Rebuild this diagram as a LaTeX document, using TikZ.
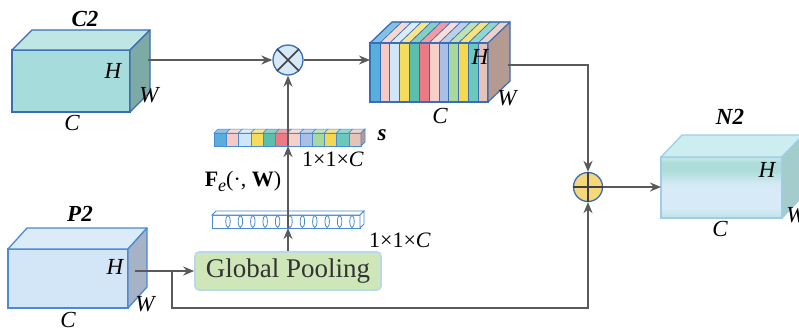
\documentclass[tikz,border=0pt]{standalone}
\usepackage{fontspec}
\setmainfont{Liberation Serif}
\usetikzlibrary{arrows.meta,calc}
\definecolor{bord}{HTML}{3A6DB5}
\definecolor{lbord}{HTML}{9FCDE6}
\definecolor{arrc}{HTML}{5A5A5A}
\definecolor{ctf}{HTML}{A6DCDC}
\definecolor{ctt}{HTML}{BFE6E4}
\definecolor{cts}{HTML}{7EAAA6}
\definecolor{pf}{HTML}{D3E6F7}
\definecolor{pt}{HTML}{DCEBF8}
\definecolor{ps}{HTML}{A6B2C6}
\definecolor{nt}{HTML}{CDEEF0}
\definecolor{ns}{HTML}{A5CCCC}
\definecolor{nA}{HTML}{BCE2E4}
\definecolor{nB}{HTML}{D6EBF7}
\definecolor{nC}{HTML}{ADDCDB}
\definecolor{nD}{HTML}{C6E9EC}
\definecolor{fs}{HTML}{B59A92}
\definecolor{gpf}{HTML}{CFE6B9}
\definecolor{gpb}{HTML}{B8D8EE}
\definecolor{mulf}{HTML}{D5E9F7}
\definecolor{addf}{HTML}{F5D77C}
\definecolor{vb}{HTML}{4A8AD0}
\definecolor{sA}{HTML}{5AAEDC}
\definecolor{sB}{HTML}{F6C9C4}
\definecolor{sC}{HTML}{CFE6F6}
\definecolor{sD}{HTML}{F6DC5C}
\definecolor{sE}{HTML}{5BBFAE}
\definecolor{sF}{HTML}{EC7A84}
\definecolor{sG}{HTML}{F7CFC9}
\definecolor{sH}{HTML}{A9BFE6}
\definecolor{sI}{HTML}{A9D89C}
\definecolor{sJ}{HTML}{F5D84E}
\definecolor{sK}{HTML}{6AC9BC}
\definecolor{sL}{HTML}{E6C3B8}
\pgfdeclareverticalshading{nshade}{100bp}{color(0bp)=(nA); color(25bp)=(nA); color(33bp)=(nB); color(52bp)=(nB); color(64bp)=(nC); color(70bp)=(nC); color(75bp)=(nD); color(100bp)=(nD)}
\tikzset{
  box/.style={draw=bord, line width=1.3pt, inner sep=0pt, outer sep=0pt, anchor=north west},
  lbl/.style={font=\fontsize{23}{23}\selectfont\itshape, inner sep=0pt},
  ttl/.style={font=\fontsize{23}{23}\selectfont\bfseries\itshape, inner sep=0pt},
  dim/.style={font=\fontsize{22}{22}\selectfont, inner sep=0pt},
  arr/.style={draw=arrc, line width=2.6pt, -{Stealth[length=11pt,width=9pt]}},
}
\begin{document}
\begin{tikzpicture}[x=1pt,y=-1pt]
\clip (0,0) rectangle (799,330);
\fill[white] (0,0) rectangle (799,330);

% ---- C2 cuboid
\node[box, fill=ctf, minimum width=118pt, minimum height=62pt] (c2) at (12,50) {};
\filldraw[draw=bord, line width=1.3pt, fill=ctt, line join=round] (c2.north west) -- ++(20,-20) -- ($(c2.north east)+(20,-20)$) -- (c2.north east) -- cycle;
\filldraw[draw=bord, line width=1.3pt, fill=cts, line join=round] (c2.north east) -- ++(20,-20) -- ++(0,62) -- (c2.south east) -- cycle;
\node[ttl] (c2t) at (85,19) {C2};
\node[lbl] (c2h) at (113,71) {H};
\node[lbl] (c2w) at (149,95) {W};
\node[lbl] (c2c) at (72,123) {C};
\coordinate (c2out) at (148,60);

% ---- P2 cuboid
\node[box, draw=vb, fill=pf, minimum width=120pt, minimum height=59pt] (p2) at (8,249) {};
\filldraw[draw=vb, line width=1.3pt, fill=pt, line join=round] (p2.north west) -- ++(19,-21) -- ($(p2.north east)+(19,-21)$) -- (p2.north east) -- cycle;
\filldraw[draw=vb, line width=1.3pt, fill=ps, line join=round] (p2.north east) -- ++(19,-21) -- ++(0,59) -- (p2.south east) -- cycle;
\node[ttl] (p2t) at (80,214) {P2};
\node[lbl] (p2h) at (115,267) {H};
\node[lbl] (p2w) at (145,304) {W};
\node[lbl] (p2c) at (68,320) {C};
\coordinate (p2out) at (135,271);

% ---- striped feature cuboid
\foreach \c [count=\i from 0] in {sA,sB,sC,sD,sE,sF,sG,sH,sI,sJ,sK,sL} {
  \pgfmathsetmacro\xa{370+\i*9.833}
  \filldraw[fill=\c, draw=bord, line width=0.6pt] (\xa,43) rectangle ++(9.833,59);
  \filldraw[fill=\c!75!white, draw=bord, line width=0.6pt] (\xa,43) -- ++(22,-21) -- ++(9.833,0) -- ++(-22,21) -- cycle;
}
\node[box, minimum width=118pt, minimum height=59pt, line width=1.2pt] (fm) at (370,43) {};
\filldraw[draw=bord, line width=1.2pt, fill=fs, line join=round] (fm.north east) -- ++(22,-21) -- ++(0,59) -- (fm.south east) -- cycle;
\draw[draw=bord, line width=1.2pt, line join=round] (fm.north west) -- ++(22,-21) -- ++(118,0);
\node[lbl] (fmh) at (480,57) {H};
\node[lbl] (fmw) at (507,98) {W};
\node[lbl] (fmc) at (440,116) {C};
\coordinate (fmout) at (508,65);

% ---- N2 cuboid
\node[box, draw=lbord, shading=nshade, minimum width=121pt, minimum height=61pt] (n2) at (661,157) {};
\filldraw[draw=lbord, line width=1.3pt, fill=nt, line join=round] (n2.north west) -- ++(21,-22) -- ($(n2.north east)+(21,-22)$) -- (n2.north east) -- cycle;
\filldraw[draw=lbord, line width=1.3pt, fill=ns, line join=round] (n2.north east) -- ++(21,-22) -- ++(0,61) -- (n2.south east) -- cycle;
\node[ttl] (n2t) at (730,117) {N2};
\node[lbl] (n2h) at (767,170) {H};
\node[lbl] (n2w) at (796,215) {W};
\node[lbl] (n2c) at (720,229) {C};

% ---- Global Pooling
\node[draw=gpb, line width=1.6pt, fill=gpf, rounded corners=4pt, minimum width=186pt, minimum height=38pt, inner sep=0pt, font=\fontsize{27}{27}\selectfont, text=black!80] (gp) at (288,271) {Global Pooling};

% ---- empty vector bar
\node[draw=vb, line width=0.9pt, fill=white, minimum width=148pt, minimum height=13pt, inner sep=0pt, outer sep=0pt] (eb) at (286,221.5) {};
\filldraw[draw=vb, line width=0.9pt, fill=white] (eb.north west) -- ++(4,-4) -- ($(eb.north east)+(4,-4)$) -- (eb.north east) -- cycle;
\filldraw[draw=vb, line width=0.9pt, fill=white] (eb.north east) -- ++(4,-4) -- ++(0,13) -- (eb.south east) -- cycle;
\foreach \i in {0,...,10} {
  \draw[vb, line width=0.8pt] (228+\i*12.4,221.5) ellipse [x radius=2.2, y radius=6];
}

% ---- s vector bar
\foreach \c [count=\i from 0] in {sA,sB,sC,sD,sE,sF,sG,sH,sI,sJ,sK,sL} {
  \pgfmathsetmacro\xa{214+\i*12.25}
  \filldraw[fill=\c, draw=vb, line width=0.5pt] (\xa,133) rectangle ++(12.25,13);
  \filldraw[fill=\c!70!white, draw=vb, line width=0.5pt] (\xa,133) -- ++(4,-4) -- ++(12.25,0) -- ++(-4,4) -- cycle;
}
\node[draw=vb, line width=0.9pt, minimum width=147pt, minimum height=13pt, inner sep=0pt, outer sep=0pt] (sb) at (287.5,139.5) {};
\filldraw[draw=vb, line width=0.9pt, fill=sL!80!black] (sb.north east) -- ++(4,-4) -- ++(0,13) -- (sb.south east) -- cycle;

\node[font=\fontsize{23}{23}\selectfont\bfseries\itshape, inner sep=0pt] (slbl) at (382,135) {s};
\node[dim] (d1) at (333,159) {1×1×\textit{C}};
\node[dim] (d2) at (400,240) {1×1×\textit{C}};
\node[font=\fontsize{22}{22}\selectfont, inner sep=0pt] (fe) at (243,181) {\textbf{F}\raisebox{-5pt}{\fontsize{18}{18}\selectfont\itshape e}(·, \textbf{W})};

% ---- operators
\node[circle, draw=bord, line width=1.3pt, fill=mulf, minimum size=30pt, inner sep=0pt] (mul) at (288,60) {};
\draw[black!75, line width=1.5pt] (mul.45) -- (mul.225) (mul.135) -- (mul.315);
\node[circle, draw=bord, line width=1.3pt, fill=addf, minimum size=29pt, inner sep=0pt] (add) at (588,187) {};
\draw[black!75, line width=1.5pt] (add.north) -- (add.south) (add.west) -- (add.east);

% ---- connectors
\draw[arr] (c2out) -- (mul.west);
\draw[arr] (mul.east) -- (mul -| fm.west);
\draw[arr] (fmout) -| (add.north);
\draw[arr] (add.east) -- (add -| n2.west);
\draw[arr] (p2out) -- (gp.west);
\coordinate (br) at (172,271);
\coordinate (bl) at (172,308);
\draw[arr] (br) -- (bl) -| (add.south);
\draw[arr] (gp.north) -- (gp.north |- eb.south);
\draw[arr] (gp.north |- eb.south) -- (gp.north |- sb.south);
\draw[arr] (gp.north |- sb.south) -- (mul.south);
\end{tikzpicture}
\end{document}
